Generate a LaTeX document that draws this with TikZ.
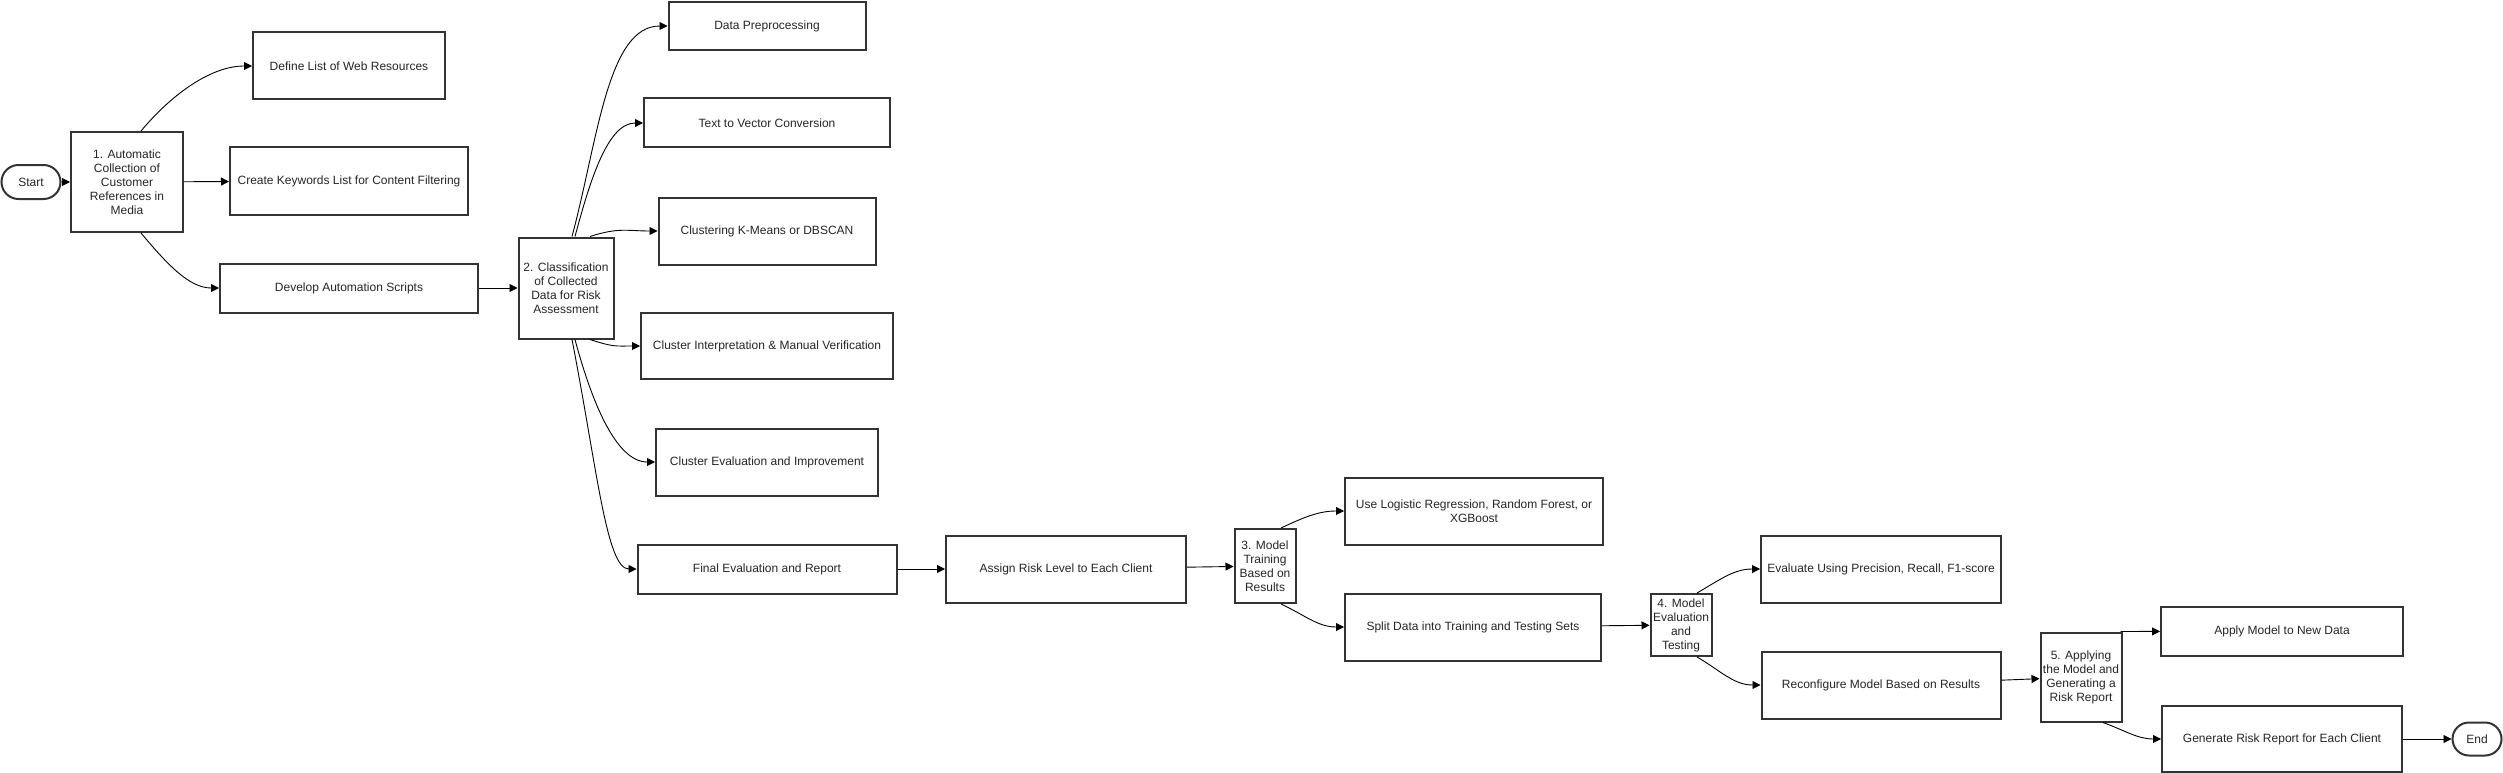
\documentclass[tikz,border=0pt]{standalone}
\usepackage{fontspec}
\setmainfont{Liberation Sans}
\usetikzlibrary{arrows.meta,shapes.misc}
\begin{document}
\begin{tikzpicture}[x=1pt,y=-1pt,
    box/.style={draw=black!80,line width=2pt,fill=white,align=center,inner sep=0pt,
      font=\fontsize{12}{14}\selectfont,text=black!85},
    term/.style={box,rounded rectangle},
    wh/.style 2 args={minimum width=#1,minimum height=#2},
    link/.style={-{Triangle[length=8pt,width=8pt]},line width=0.9pt}]
      \useasboundingbox (0,0) rectangle (2503,773);

      % step 1
      \node[term,wh={59}{34}](start) at (31,182){Start};
      \node[box,wh={112}{100}](s1) at (127,182){1. Automatic\\Collection of\\Customer\\References in\\Media};
      \node[box,wh={192}{67}](web) at (349,66){Define List of Web Resources};
      \node[box,wh={238}{67}](kw) at (349,181){Create Keywords List for Content Filtering};
      \node[box,wh={258}{49}](dev) at (349,288){Develop Automation Scripts};

      % step 2
      \node[box,wh={95}{101}](s2) at (566,288){2. Classification\\of Collected\\Data for Risk\\Assessment};
      \node[box,wh={197}{48}](pre) at (767,26){Data Preprocessing};
      \node[box,wh={246}{49}](vec) at (767,123){Text to Vector Conversion};
      \node[box,wh={217}{67}](clu) at (767,231){Clustering K-Means or DBSCAN};
      \node[box,wh={252}{66}](itp) at (767,346){Cluster Interpretation \& Manual Verification};
      \node[box,wh={222}{67}](cev) at (767,462){Cluster Evaluation and Improvement};
      \node[box,wh={259}{49}](fin) at (767,569){Final Evaluation and Report};
      \node[box,wh={240}{67}](risk) at (1066,569){Assign Risk Level to Each Client};

      % step 3
      \node[box,wh={61}{74}](s3) at (1265,566){3. Model\\Training\\Based on\\Results};
      \node[box,wh={258}{67}](lr) at (1474,511){Use Logistic Regression, Random Forest, or\\XGBoost};
      \node[box,wh={256}{67}](split) at (1473,627){Split Data into Training and Testing Sets};

      % step 4
      \node[box,wh={61}{62}](s4) at (1681,625){4. Model\\Evaluation\\and\\Testing};
      \node[box,wh={240}{67}](eval) at (1881,569){Evaluate Using Precision, Recall, F1-score};
      \node[box,wh={239}{67}](reconf) at (1881,685){Reconfigure Model Based on Results};

      % step 5
      \node[box,wh={81}{89}](s5) at (2081,677){5. Applying\\the Model and\\Generating a\\Risk Report};
      \node[box,wh={242}{49}](apply) at (2282,631){Apply Model to New Data};
      \node[box,wh={240}{66}](gen) at (2282,739){Generate Risk Report for Each Client};
      \node[term,wh={49}{33}](end) at (2477,739){End};

      \draw[link] (start) -- (s1);
      \draw[link] ([xshift=14]s1.north) to[out=50,in=180,out distance=50pt,in distance=40pt] (web);
      \draw[link] (s1) -- (kw);
      \draw[link] ([xshift=14]s1.south) to[out=-50,in=180,out distance=40pt,in distance=30pt] (dev);
      \draw[link] (dev) -- (s2);

      \draw[link] ([xshift=6]s2.north) to[out=75,in=180,out distance=100pt,in distance=60pt] (pre);
      \draw[link] ([xshift=9]s2.north) to[out=75,in=180,out distance=60pt,in distance=35pt] (vec);
      \draw[link] ([xshift=24]s2.north) to[out=18,in=180,out distance=30pt,in distance=30pt] (clu);
      \draw[link] ([xshift=24]s2.south) to[out=-18,in=180,out distance=25pt,in distance=25pt] (itp);
      \draw[link] ([xshift=9]s2.south) to[out=-75,in=180,out distance=60pt,in distance=40pt] (cev);
      \draw[link] ([xshift=6]s2.south) to[out=-79,in=180,out distance=130pt,in distance=30pt] (fin);
      \draw[link] (fin) -- (risk);
      \draw[link] (risk) -- (s3);

      \draw[link] ([xshift=16]s3.north) to[out=25,in=180] (lr);
      \draw[link] ([xshift=16]s3.south) to[out=-25,in=180] (split);
      \draw[link] (split) -- (s4);

      \draw[link] ([xshift=16]s4.north) to[out=30,in=180] (eval);
      \draw[link] ([xshift=16]s4.south) to[out=-30,in=180] (reconf);
      \draw[link] (reconf) -- (s5);

      \draw[link] ([xshift=-2]s5.north east) -- (apply);
      \draw[link] ([xshift=22]s5.south) to[out=-20,in=180] (gen);
      \draw[link] (gen) -- (end);

    \end{tikzpicture}
\end{document}
